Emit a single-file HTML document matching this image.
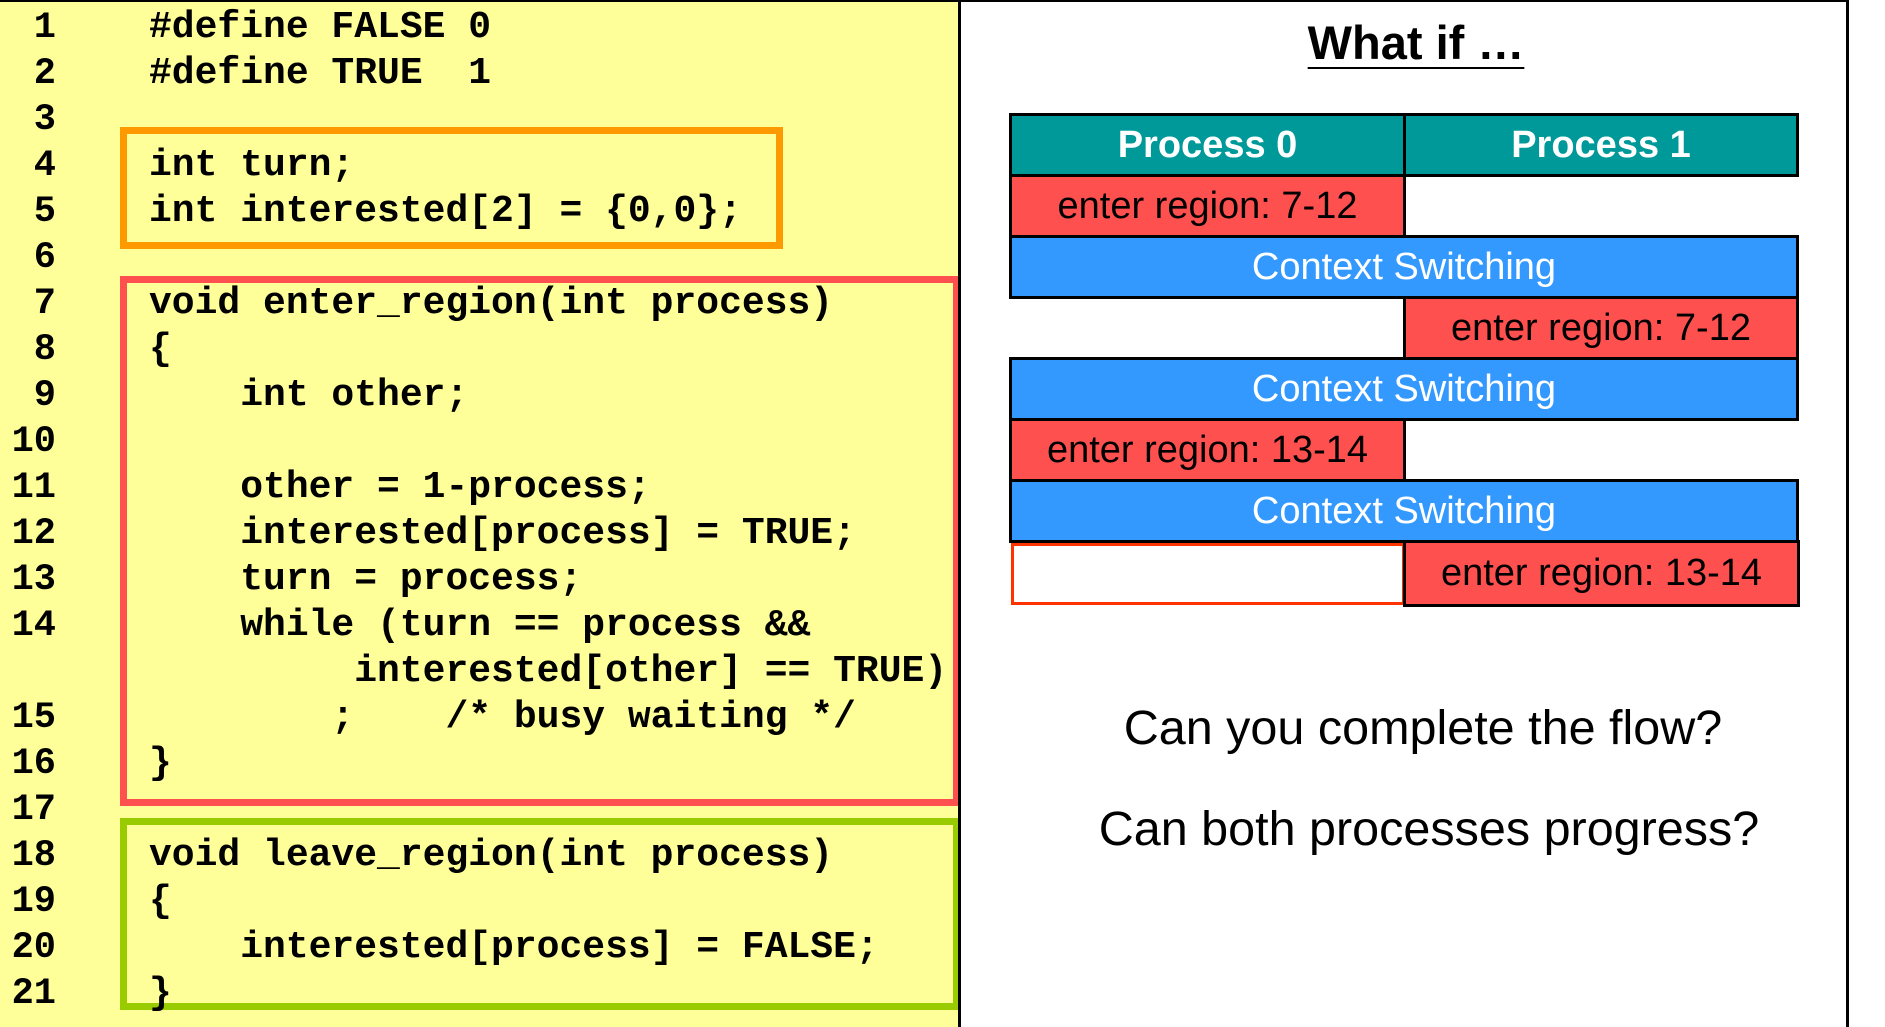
<!DOCTYPE html>
<html><head><meta charset="utf-8"><style>
body{margin:0;width:1885px;height:1027px;background:#fff;position:relative;overflow:hidden;font-family:"Liberation Sans",sans-serif}
#left{position:absolute;left:0;top:0;width:958px;height:1027px;background:#ffff99;border-top:2px solid #000;box-sizing:border-box}
#divider{position:absolute;left:958px;top:0;width:3px;height:1027px;background:#000}
#rborder{position:absolute;left:1846px;top:0;width:3px;height:1027px;background:#000}
#topline{position:absolute;left:958px;top:0;width:890px;height:2px;background:#000}
.code{position:absolute;top:5px;left:0;font-family:"Liberation Mono",monospace;font-weight:bold;font-size:38px;line-height:46px;white-space:pre;color:#000}
.nums{position:absolute;top:5px;left:0;width:56px;text-align:right;font-family:"Liberation Mono",monospace;font-weight:bold;font-size:37px;line-height:46px;white-space:pre}
.box{position:absolute;box-sizing:border-box;border:7px solid}
.cell{position:absolute;box-sizing:border-box;display:flex;align-items:center;justify-content:center;font-size:38px;color:#000;border:3px solid #000}
.q{position:absolute;font-size:48.5px;color:#000;text-align:center;width:900px}
</style></head><body>
<div id="left"></div>
<div class="box" style="left:120px;top:127px;width:663px;height:122px;border-color:#ff9900"></div>
<div class="box" style="left:120px;top:276px;width:840px;height:530px;border-color:#ff5050"></div>
<div class="box" style="left:120px;top:818px;width:840px;height:192px;border-color:#99cc00"></div>
<div class="nums">1
2
3
4
5
6
7
8
9
10
11
12
13
14

15
16
17
18
19
20
21</div>
<div class="code" style="left:149px">#define FALSE 0
#define TRUE  1

int turn;
int interested[2] = {0,0};

void enter_region(int process)
{
    int other;

    other = 1-process;
    interested[process] = TRUE;
    turn = process;
    while (turn == process &amp;&amp;
         interested[other] == TRUE)
        ;    /* busy waiting */
}

void leave_region(int process)
{
    interested[process] = FALSE;
}</div>
<div id="divider"></div>
<div id="topline"></div>
<div id="rborder"></div>
<div style="position:absolute;left:1216px;width:400px;top:15px;text-align:center;font-weight:bold;font-size:47px"><span style="text-decoration:underline;text-underline-offset:8px;text-decoration-thickness:2px">What if …</span></div>

<div class="cell" style="left:1009px;top:113px;width:397px;height:64px;background:#009999;color:#fff;font-weight:bold">Process 0</div>
<div class="cell" style="left:1403px;top:113px;width:396px;height:64px;background:#009999;color:#fff;font-weight:bold">Process 1</div>
<div class="cell" style="left:1009px;top:174px;width:397px;height:64px;background:#ff5050">enter region: 7-12</div>
<div class="cell" style="left:1009px;top:235px;width:790px;height:64px;background:#3399ff;color:#fff">Context Switching</div>
<div class="cell" style="left:1403px;top:296px;width:396px;height:64px;background:#ff5050">enter region: 7-12</div>
<div class="cell" style="left:1009px;top:357px;width:790px;height:64px;background:#3399ff;color:#fff">Context Switching</div>
<div class="cell" style="left:1009px;top:418px;width:397px;height:64px;background:#ff5050">enter region: 13-14</div>
<div class="cell" style="left:1009px;top:479px;width:790px;height:64px;background:#3399ff;color:#fff">Context Switching</div>
<div class="cell" style="left:1011px;top:543px;width:394px;height:62px;background:#fff;border:3px solid #ff3300"></div>
<div class="cell" style="left:1403px;top:540px;width:397px;height:67px;background:#ff5050">enter region: 13-14</div>

<div class="q" style="left:973px;top:700px">Can you complete the flow?</div>
<div class="q" style="left:979px;top:801px">Can both processes progress?</div>
</body></html>
